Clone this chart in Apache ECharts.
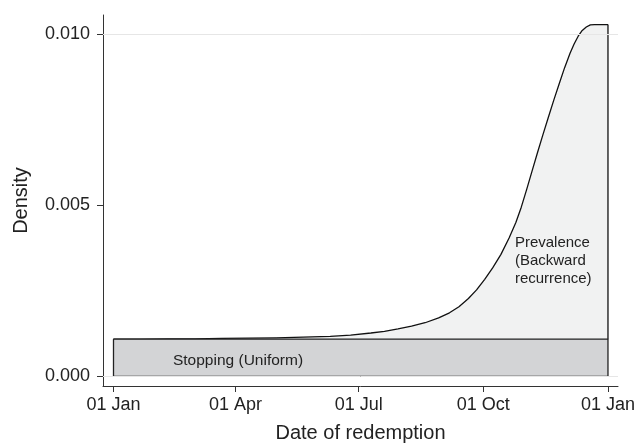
<!DOCTYPE html>
<html>
<head>
<meta charset="utf-8">
<script src="https://cdn.jsdelivr.net/npm/echarts@6/dist/echarts.min.js"></script>
<style>html,body{margin:0;padding:0;background:#fff}#c{width:639px;height:448px}</style>
</head>
<body>
<div id="c"></div>
<script>
// Day-of-year positions of x tick labels
const xTickDays = [0, 90, 181, 273, 365];
const xTickLabels = ["01 Jan", "01 Apr", "01 Jul", "01 Oct", "01 Jan"];
const yTickValues = [0, 0.005, 0.010];
const yTickLabels = ["0.000", "0.005", "0.010"];

// Stopping (Uniform) density
const uniformStart = 0;
const uniformEnd = 365;
const uniformDensity = 0.00109;

// Prevalence (Backward recurrence) density curve: [day, density]
const prevalenceDays = [0, 20, 40, 60, 80, 100, 120, 140, 160, 175, 190, 200, 210, 220, 230, 240, 248, 255, 262, 268, 274, 280, 286, 292, 297, 301, 305, 309, 313, 317, 321, 325, 329, 333, 337, 340, 343, 346, 349, 352, 355, 365];
const prevalenceDensity = [0.00109, 0.00109, 0.00110, 0.00110, 0.00111, 0.00112, 0.00113, 0.00115, 0.00117, 0.00121, 0.00127, 0.00132, 0.00139, 0.00147, 0.00157, 0.00171, 0.00186, 0.00204, 0.00228, 0.00253, 0.00284, 0.00318, 0.00357, 0.00405, 0.00450, 0.00495, 0.00547, 0.00601, 0.00655, 0.00707, 0.00758, 0.00808, 0.00856, 0.00903, 0.00945, 0.00972, 0.00995, 0.01012, 0.01022, 0.01028, 0.01029, 0.01029];

const FONT = "Liberation Sans";
const chart = echarts.init(document.getElementById('c'));

const curve = prevalenceDays.map((d, i) => [d, prevalenceDensity[i]]);
const lastDensity = prevalenceDensity[prevalenceDensity.length - 1];
const rightEdge = [[uniformEnd, lastDensity], [uniformEnd, uniformDensity]];

const box = [[uniformStart, 0], [uniformStart, uniformDensity], [uniformEnd, uniformDensity], [uniformEnd, 0], [uniformStart, 0]];

chart.setOption({
  animation: false,
  backgroundColor: '#fff',
  grid: { left: 103, right: 21, top: 15, bottom: 59, containLabel: false },
  xAxis: {
    type: 'value', min: -7.75, max: 372.4,
    axisLine: { show: true, onZero: false, lineStyle: { color: '#333', width: 1 } },
    axisTick: { show: true, length: 6, customValues: xTickDays, lineStyle: { color: '#333' } },
    axisLabel: {
      customValues: xTickDays, margin: 10, fontFamily: FONT, fontSize: 18, color: '#222',
      formatter: v => xTickLabels[xTickDays.indexOf(v)]
    },
    splitLine: { show: false },
    name: 'Date of redemption', nameLocation: 'middle', nameGap: 37,
    nameTextStyle: { fontFamily: FONT, fontSize: 20, color: '#222' }
  },
  yAxis: {
    type: 'value', min: -0.00028, max: 0.01057,
    axisLine: { show: true, onZero: false, lineStyle: { color: '#333', width: 1 } },
    axisTick: { show: true, length: 6, customValues: yTickValues, lineStyle: { color: '#333' } },
    axisLabel: {
      customValues: yTickValues, margin: 13, fontFamily: FONT, fontSize: 18, color: '#222',
      formatter: v => yTickLabels[yTickValues.indexOf(v)]
    },
    splitLine: { show: false },
    name: 'Density', nameLocation: 'middle', nameGap: 72,
    nameTextStyle: { fontFamily: FONT, fontSize: 20, color: '#222' }
  },
  series: [
    {
      type: 'line', name: 'grid', data: [], z: 1,
      markLine: {
        silent: true, symbol: 'none', label: { show: false },
        lineStyle: { color: '#e6e6e6', type: 'solid', width: 1 },
        data: yTickValues.map(v => ({ yAxis: v }))
      }
    },
    {
      type: 'line', name: 'Prevalence', data: curve, smooth: false, showSymbol: false, z: 2,
      lineStyle: { color: '#111', width: 1.3, join: 'round' },
      areaStyle: { color: '#f1f2f2', opacity: 1 },
      markPoint: {
        symbol: 'circle', symbolSize: 0,
        label: {
          show: true, position: 'right', distance: 0, align: 'left',
          fontFamily: FONT, fontSize: 15, lineHeight: 18, color: '#222',
          formatter: 'Prevalence\n(Backward\nrecurrence)'
        },
        data: [{ coord: [296.3, 0.00338] }]
      }
    },
    {
      type: 'line', name: 'edge', data: rightEdge, showSymbol: false, z: 2,
      lineStyle: { color: '#111', width: 1.3 }
    },
    {
      type: 'line', name: 'Stopping', data: box, showSymbol: false, z: 3,
      lineStyle: { color: '#222', width: 1.3 },
      areaStyle: { color: '#d3d4d6', opacity: 1 },
      markPoint: {
        symbol: 'circle', symbolSize: 0,
        label: {
          show: true, position: 'right', distance: 0, align: 'left',
          fontFamily: FONT, fontSize: 15.5, color: '#222',
          formatter: 'Stopping (Uniform)'
        },
        data: [{ coord: [43.9, 0.00047] }]
      }
    }
  ]
});
</script>
</body>
</html>
